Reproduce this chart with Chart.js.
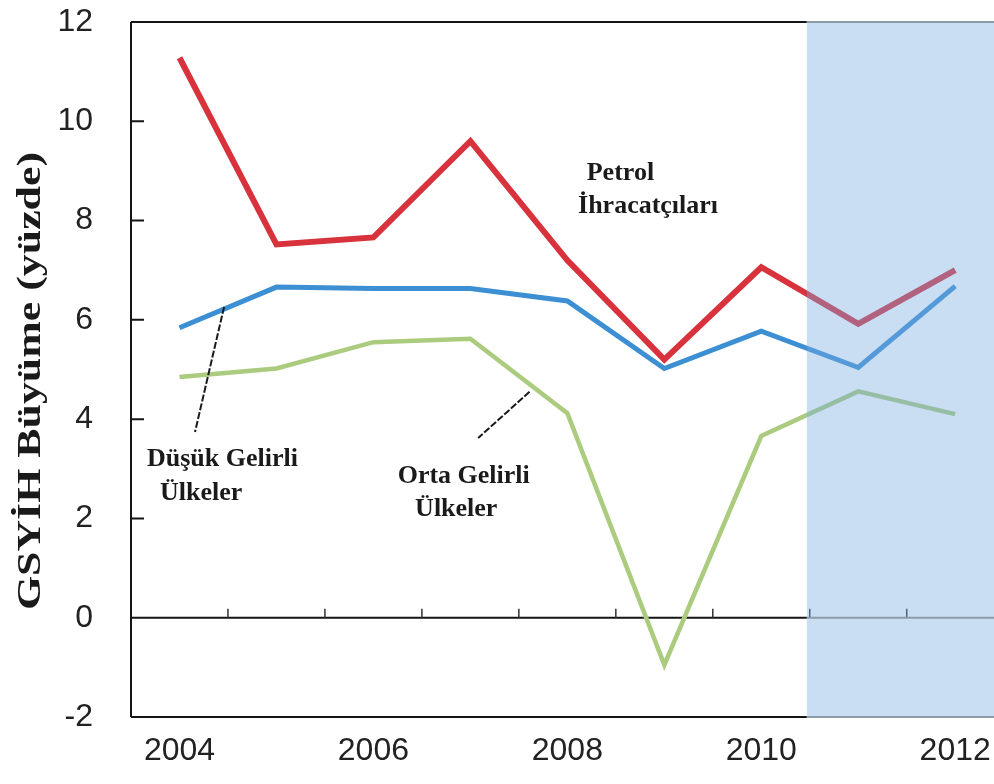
<!DOCTYPE html>
<html>
<head>
<meta charset="utf-8">
<script src="https://cdn.jsdelivr.net/npm/chart.js@4.4.0/dist/chart.umd.min.js"></script>
<style>
  html, body { margin: 0; padding: 0; background: #fff; }
</style>
</head>
<body>
<canvas id="chart" width="994" height="784"></canvas>
<script>
// veriler
const years = [2004, 2005, 2006, 2007, 2008, 2009, 2010, 2011, 2012];
const petrolIhracatcilari = [11.28, 7.52, 7.66, 9.6, 7.2, 5.2, 7.06, 5.92, 7.0];
const dusukGelirli = [5.84, 6.66, 6.63, 6.63, 6.38, 5.02, 5.77, 5.04, 6.68];
const ortaGelirli = [4.85, 5.02, 5.55, 5.62, 4.12, -0.95, 3.66, 4.56, 4.1];

const xTickLabels = [2004, 2006, 2008, 2010, 2012];
const yTickValues = [-2, 0, 2, 4, 6, 8, 10, 12];
const minorXTicks = [2004.5, 2005.5, 2006.5, 2007.5, 2008.5, 2009.5, 2010.5, 2011.5];
const forecastStart = 2010.47;

const toPoints = arr => arr.map((v, i) => ({ x: years[i], y: v }));

// cerceve, golge, etiketler
const framePlugin = {
  id: 'frame',
  beforeDatasetsDraw(chart) {
    const { ctx, chartArea: a, scales: { x, y } } = chart;
    const sx = x.getPixelForValue(forecastStart);
    const y0 = y.getPixelForValue(0);
    ctx.save();
    ctx.strokeStyle = '#151515';
    ctx.lineWidth = 2;
    ctx.beginPath();
    ctx.moveTo(a.left, a.top); ctx.lineTo(a.left, a.bottom);
    ctx.moveTo(a.left, a.top); ctx.lineTo(sx, a.top);
    ctx.moveTo(a.left, a.bottom); ctx.lineTo(sx, a.bottom);
    ctx.moveTo(a.left, y0); ctx.lineTo(sx, y0);
    ctx.stroke();
    // y ekseni ic tik isaretleri
    ctx.beginPath();
    yTickValues.filter(v => v > -2 && v < 12 && v !== 0).forEach(v => {
      const py = y.getPixelForValue(v);
      ctx.moveTo(a.left, py); ctx.lineTo(a.left + 13, py);
    });
    ctx.stroke();
    // x ekseni ara tikler (sifir cizgisi uzerinde)
    ctx.lineWidth = 1.5;
    ctx.strokeStyle = '#333';
    ctx.beginPath();
    minorXTicks.forEach(v => {
      const px = x.getPixelForValue(v);
      ctx.moveTo(px, y0); ctx.lineTo(px, y0 - 9);
    });
    ctx.stroke();
    ctx.restore();
  },
  afterDatasetsDraw(chart) {
    const { ctx, chartArea: a, scales: { x, y } } = chart;
    const sx = x.getPixelForValue(forecastStart);
    const y0 = y.getPixelForValue(0);
    ctx.save();
    ctx.fillStyle = 'rgba(120, 170, 225, 0.4)';
    ctx.fillRect(sx, a.top - 1, a.right - sx, a.bottom - a.top + 1);
    ctx.strokeStyle = '#8d9aa8';
    ctx.lineWidth = 2;
    ctx.beginPath();
    ctx.moveTo(sx, a.top); ctx.lineTo(a.right, a.top);
    ctx.moveTo(sx, a.bottom); ctx.lineTo(a.right, a.bottom);
    ctx.moveTo(sx, y0); ctx.lineTo(a.right, y0);
    ctx.stroke();
    ctx.restore();
  },
  afterDraw(chart) {
    const { ctx, scales: { x, y } } = chart;
    const P = (xv, yv) => [x.getPixelForValue(xv), y.getPixelForValue(yv)];
    ctx.save();
    // isaret cizgileri
    ctx.strokeStyle = '#1a1a1a';
    ctx.lineWidth = 2;
    ctx.setLineDash([7, 2]);
    [[[2004.46, 6.26], [2004.16, 3.74]], [[2007.61, 4.55], [2007.08, 3.62]]].forEach(([p1, p2]) => {
      ctx.beginPath();
      ctx.moveTo(...P(...p1));
      ctx.lineTo(...P(...p2));
      ctx.stroke();
    });
    ctx.setLineDash([]);

    ctx.fillStyle = '#1a1a1a';
    ctx.font = 'bold 26px "Liberation Serif"';
    ctx.textAlign = 'left';
    ctx.textBaseline = 'alphabetic';
    const labels = [
      ['Petrol', 2008.2, 8.82],
      ['İhracatçıları', 2008.11, 8.15],
      ['Düşük Gelirli', 2003.665, 3.06],
      ['Ülkeler', 2003.8, 2.37],
      ['Orta Gelirli', 2006.25, 2.71],
      ['Ülkeler', 2006.43, 2.05]
    ];
    labels.forEach(([t, xv, yv]) => {
      const [px, py] = P(xv, yv);
      ctx.fillText(t, px, py);
    });

    // y ekseni basligi
    ctx.translate(40, 381);
    ctx.rotate(-Math.PI / 2);
    ctx.scale(1.29, 1);
    ctx.textAlign = 'center';
    ctx.font = 'bold 34px "Liberation Serif"';
    ctx.fillText('GSYİH Büyüme (yüzde)', 0, 0);
    ctx.restore();
  }
};

const ctx = document.getElementById('chart').getContext('2d');
new Chart(ctx, {
  type: 'line',
  data: {
    datasets: [
      {
        label: 'Petrol İhracatçıları',
        data: toPoints(petrolIhracatcilari),
        borderColor: '#d8323d',
        borderWidth: 6,
      },
      {
        label: 'Düşük Gelirli Ülkeler',
        data: toPoints(dusukGelirli),
        borderColor: '#3c8fd2',
        borderWidth: 5,
      },
      {
        label: 'Orta Gelirli Ülkeler',
        data: toPoints(ortaGelirli),
        borderColor: '#abcb7e',
        borderWidth: 4.5,
      }
    ]
  },
  options: {
    responsive: false,
    animation: false,
    devicePixelRatio: 1,
    elements: {
      point: { radius: 0 },
      line: { tension: 0, borderJoinStyle: 'miter', borderCapStyle: 'butt' }
    },
    layout: { padding: { top: 22, right: 0, bottom: 0, left: 0 } },
    scales: {
      x: {
        type: 'linear',
        min: 2003.5,
        max: 2012.4,
        afterBuildTicks: s => { s.ticks = xTickLabels.map(v => ({ value: v })); },
        afterFit: s => { s.height = 67; s.paddingLeft = 0; s.paddingRight = 0; },
        grid: { display: false, drawTicks: false },
        border: { display: false },
        ticks: {
          padding: 15,
          color: '#222',
          font: { family: '"Liberation Sans"', size: 32 },
          callback: v => String(v)
        }
      },
      y: {
        min: -2,
        max: 12,
        afterBuildTicks: s => { s.ticks = yTickValues.map(v => ({ value: v })); },
        afterFit: s => { s.width = 131; s.paddingTop = 0; s.paddingBottom = 0; },
        grid: { display: false, drawTicks: false },
        border: { display: false },
        ticks: {
          padding: 38,
          color: '#222',
          font: { family: '"Liberation Sans"', size: 32 }
        }
      }
    },
    plugins: {
      legend: { display: false },
      tooltip: { enabled: false }
    }
  },
  plugins: [framePlugin]
});
</script>
</body>
</html>
